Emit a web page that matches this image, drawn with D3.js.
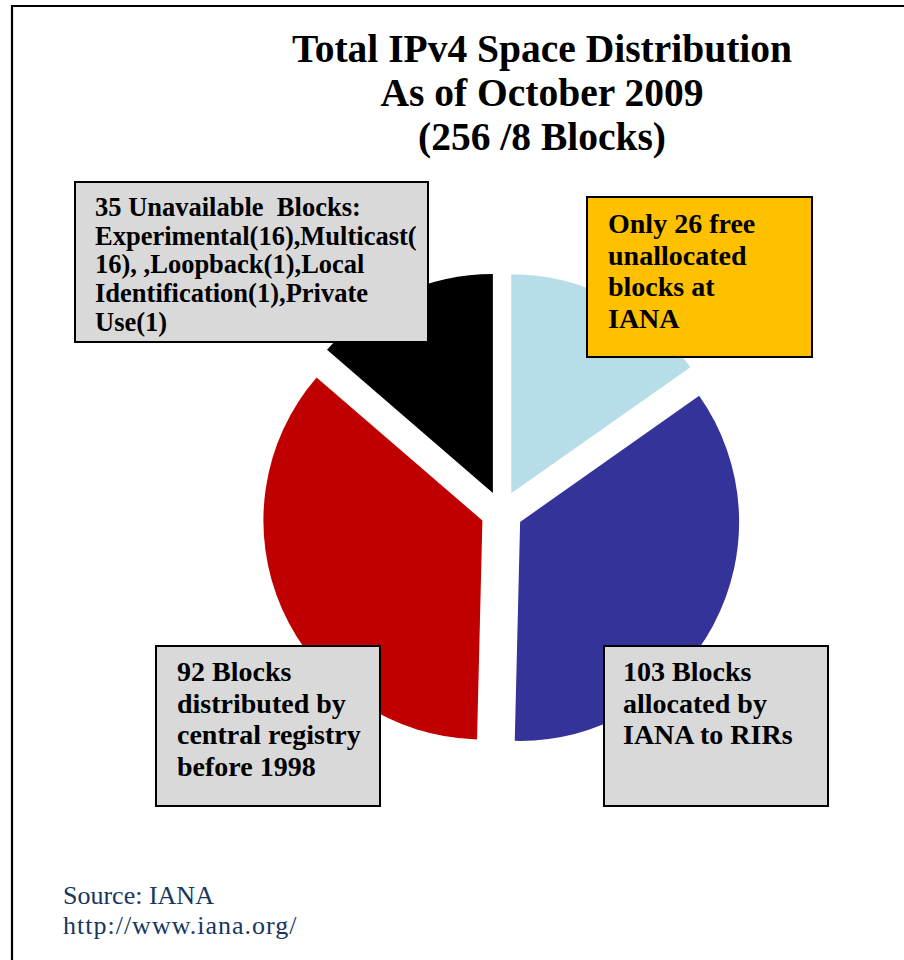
<!DOCTYPE html>
<html>
<head>
<meta charset="utf-8">
<script src="https://cdn.jsdelivr.net/npm/d3@7"></script>
<style>
  body { margin: 0; background: #fff; }
  svg { display: block; }
  text { font-family: "Liberation Serif", "Times New Roman", serif; white-space: pre; }
</style>
</head>
<body>
<div id="chart"></div>
<script>
// slice sizes (blocks of /8, sum 256)
var categories = ["Free at IANA", "Allocated to RIRs", "Central registry before 1998", "Unavailable"];
var sliceValues = [39, 90, 92, 35];
var sliceColors = ["#b7dee8", "#333399", "#c00000", "#000000"];

var titleLines = ["Total IPv4 Space Distribution", "As of October 2009", "(256 /8 Blocks)"];

var freeLines = ["Only 26 free", "unallocated", "blocks at", "IANA"];
var rirLines = ["103 Blocks", "allocated by", "IANA to RIRs"];
var legacyLines = ["92 Blocks", "distributed by", "central registry", "before 1998"];
var reservedLines = ["35 Unavailable  Blocks:", "Experimental(16),Multicast(", "16), ,Loopback(1),Local", "Identification(1),Private", "Use(1)"];

var sourceLines = ["Source: IANA", "http://www.iana.org/"];

var width = 904, height = 960;

var svg = d3.select("#chart").append("svg")
    .attr("width", width)
    .attr("height", height);

// page frame (only top and left edge show)
svg.append("path")
    .attr("d", "M12,960 V6 H904")
    .attr("fill", "none")
    .attr("stroke", "#000")
    .attr("stroke-width", 2.2);

// title
svg.append("g")
    .selectAll("text")
    .data(titleLines)
  .enter().append("text")
    .attr("x", 542)
    .attr("y", function(d, i) { return 62 + i * 44; })
    .attr("text-anchor", "middle")
    .attr("font-weight", "bold")
    .attr("font-size", 39.5)
    .text(function(d) { return d; });

// pie
var cx = 501.6, cy = 512, radius = 219, explode = 21;

var pie = d3.pie()
    .sort(null)
    .value(function(d) { return d; });

var arc = d3.arc()
    .innerRadius(0)
    .outerRadius(radius);

var arcs = pie(sliceValues);

svg.append("g")
    .attr("transform", "translate(" + cx + "," + cy + ")")
  .selectAll("path")
    .data(arcs)
  .enter().append("path")
    .attr("d", arc)
    .attr("fill", function(d, i) { return sliceColors[i]; })
    .attr("transform", function(d) {
        var mid = (d.startAngle + d.endAngle) / 2;
        return "translate(" + (explode * Math.sin(mid)) + "," + (-explode * Math.cos(mid)) + ")";
    });

// callout boxes
var boxes = [
    {x: 75, y: 182, w: 353, h: 160, fill: "#d9d9d9", lines: reservedLines, size: 26.5, tx: 95, ty: 216, lh: 28.7},
    {x: 587, y: 197, w: 225, h: 160, fill: "#ffc000", lines: freeLines, size: 28, tx: 608, ty: 233, lh: 31.5},
    {x: 156, y: 646, w: 224, h: 160, fill: "#d9d9d9", lines: legacyLines, size: 28, tx: 177, ty: 681, lh: 31.7},
    {x: 604, y: 646, w: 224, h: 160, fill: "#d9d9d9", lines: rirLines, size: 28, tx: 623, ty: 681, lh: 31.7}
];

var box = svg.selectAll("g.box")
    .data(boxes)
  .enter().append("g")
    .attr("class", "box");

box.append("rect")
    .attr("x", function(d) { return d.x; })
    .attr("y", function(d) { return d.y; })
    .attr("width", function(d) { return d.w; })
    .attr("height", function(d) { return d.h; })
    .attr("fill", function(d) { return d.fill; })
    .attr("stroke", "#000")
    .attr("stroke-width", 2);

box.each(function(b) {
    d3.select(this).selectAll("text")
        .data(b.lines)
      .enter().append("text")
        .attr("x", b.tx)
        .attr("y", function(d, i) { return b.ty + i * b.lh; })
        .attr("font-weight", "bold")
        .attr("font-size", b.size)
        .attr("fill", "#000")
        .text(function(d) { return d; });
});

// source note
svg.append("g")
    .selectAll("text")
    .data(sourceLines)
  .enter().append("text")
    .attr("x", 63)
    .attr("y", function(d, i) { return 904 + i * 30; })
    .attr("font-size", 26)
    .attr("fill", "#17375e")
    .attr("letter-spacing", function(d, i) { return i === 1 ? 1 : 0; })
    .text(function(d) { return d; });
</script>
</body>
</html>
